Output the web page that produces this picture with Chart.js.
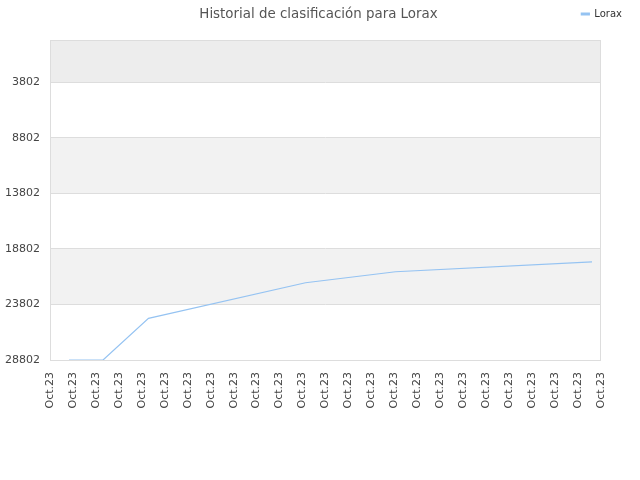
<!DOCTYPE html>
<html>
<head>
<meta charset="utf-8">
<script src="https://cdn.jsdelivr.net/npm/chart.js@4"></script>
<style>
  html, body { margin: 0; padding: 0; background: #fff; }
  #wrap { position: relative; width: 640px; height: 480px; }
  #title {
    position: absolute; left: 0; top: 6px; width: 640px; text-align: center;
    font-family: "DejaVu Sans", sans-serif; font-size: 13.4px; color: #555;
    padding-right: 3px; box-sizing: border-box;
  }
</style>
</head>
<body>
<div id="wrap">
  <div id="title">Historial de clasificación para Lorax</div>
  <canvas id="rankChart" width="640" height="480"></canvas>
</div>
<script>
// posiciones en el eje x (índice de la etiqueta) y clasificación leída
const seriesName = 'Lorax';
const xPos = [0.83, 2.31, 4.29, 11.13, 15.05, 23.61];
const ranks = [28802, 28802, 25052, 21850, 20861, 19962];
const tickLabels = [
    'Oct.23', 'Oct.23', 'Oct.23', 'Oct.23', 'Oct.23', 'Oct.23', 'Oct.23',
    'Oct.23', 'Oct.23', 'Oct.23', 'Oct.23', 'Oct.23', 'Oct.23', 'Oct.23',
    'Oct.23', 'Oct.23', 'Oct.23', 'Oct.23', 'Oct.23', 'Oct.23', 'Oct.23',
    'Oct.23', 'Oct.23', 'Oct.23', 'Oct.23'
];
const yTicks = [3802, 8802, 13802, 18802, 23802, 28802];
const yMin = 1;
const yMax = 28802;

const lineColor = '#95c3f2';

// bandas alternas de fondo y borde del área
const bandsPlugin = {
    id: 'bands',
    beforeDraw(chart) {
        const ctx = chart.ctx;
        const area = chart.chartArea;
        const y = chart.scales.y;
        const edges = [yMin].concat(yTicks);
        ctx.save();
        for (let i = 0; i < edges.length - 1; i++) {
            if (i % 2 !== 0) continue;
            const top = y.getPixelForValue(edges[i]);
            const bottom = y.getPixelForValue(edges[i + 1]);
            ctx.fillStyle = i === 0 ? '#ededed' : '#f2f2f2';
            ctx.fillRect(area.left, top, area.right - area.left, bottom - top);
        }
        ctx.restore();
    },
    afterDraw(chart) {
        const ctx = chart.ctx;
        const area = chart.chartArea;
        ctx.save();
        ctx.strokeStyle = '#dddddd';
        ctx.lineWidth = 1;
        ctx.strokeRect(area.left + 0.5, area.top + 0.5, area.right - area.left - 1, area.bottom - area.top);
        ctx.restore();
    }
};

// la leyenda va en la fila del título, pegada a la derecha
const legendShift = {
    id: 'legendShift',
    afterLayout(chart) {
        chart.legend.left += 31;
        chart.legend.right += 31;
        chart.legend.top -= 11;
        chart.legend.bottom -= 11;
    }
};

const ctx = document.getElementById('rankChart').getContext('2d');
const rankChart = new Chart(ctx, {
    type: 'line',
    data: {
        datasets: [{
            label: seriesName,
            data: xPos.map((x, i) => ({ x: x, y: ranks[i] })),
            borderColor: lineColor,
            backgroundColor: lineColor,
            borderWidth: 1.2,
            pointRadius: 0,
            tension: 0,
            fill: false
        }]
    },
    options: {
        responsive: false,
        animation: false,
        layout: { padding: { top: 10, right: 39, left: 0, bottom: 0 } },
        plugins: {
            title: { display: false },
            tooltip: { enabled: false },
            legend: {
                position: 'top',
                align: 'end',
                labels: {
                    boxWidth: 8,
                    boxHeight: 2,
                    padding: 10,
                    color: '#333',
                    font: { family: 'DejaVu Sans', size: 10 }
                }
            }
        },
        scales: {
            x: {
                type: 'linear',
                min: 0,
                max: 24,
                afterBuildTicks(scale) {
                    scale.ticks = tickLabels.map((t, i) => ({ value: i }));
                },
                afterFit(scale) { scale.height = 120; },
                grid: { display: false, drawTicks: false },
                border: { display: false },
                ticks: {
                    autoSkip: false,
                    minRotation: 90,
                    maxRotation: 90,
                    padding: 12,
                    color: '#444',
                    font: { family: 'DejaVu Sans', size: 11 },
                    callback: (value) => tickLabels[value]
                }
            },
            y: {
                type: 'linear',
                reverse: true,
                min: yMin,
                max: yMax,
                afterBuildTicks(scale) {
                    scale.ticks = yTicks.map(v => ({ value: v }));
                },
                afterFit(scale) { scale.width = 50; },
                grid: { color: '#dddddd', drawTicks: false },
                border: { display: false },
                ticks: {
                    padding: 10,
                    color: '#444',
                    font: { family: 'DejaVu Sans', size: 11 },
                    callback: (value) => String(value)
                }
            }
        }
    },
    plugins: [bandsPlugin, legendShift]
});
</script>
</body>
</html>
